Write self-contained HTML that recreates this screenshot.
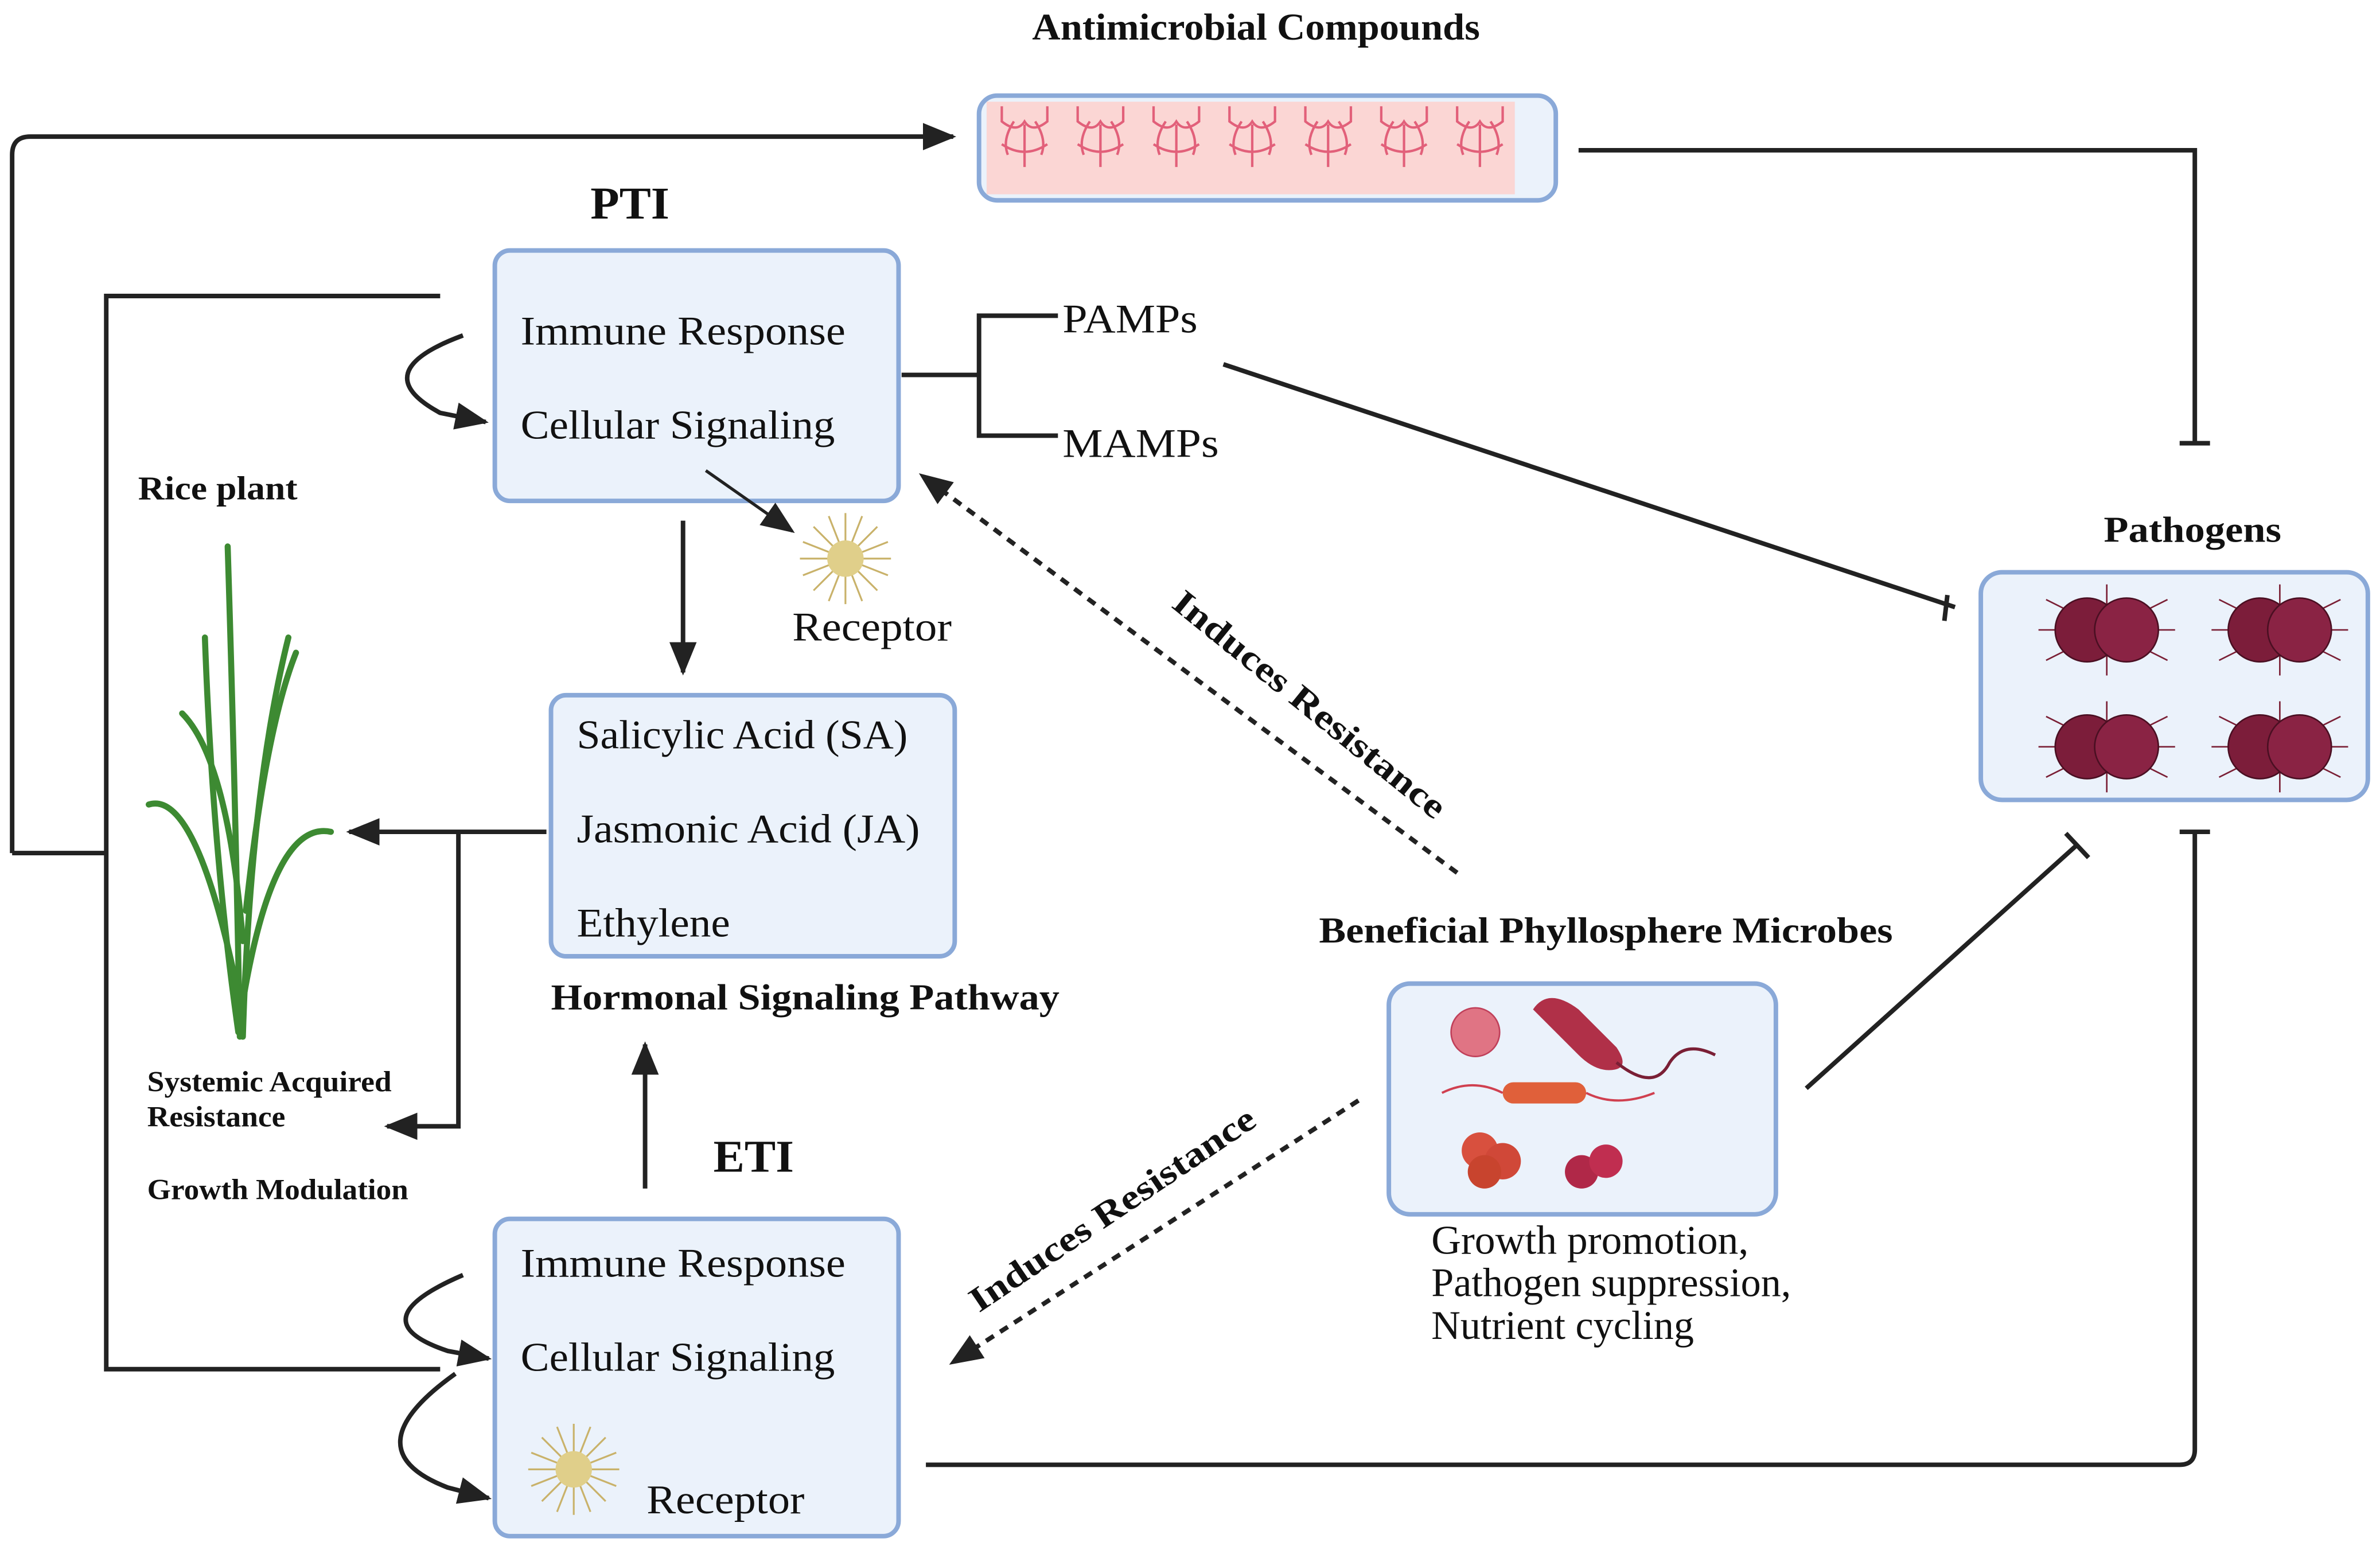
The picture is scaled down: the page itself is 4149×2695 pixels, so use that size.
<!DOCTYPE html>
<html><head><meta charset="utf-8">
<style>
html,body{margin:0;padding:0;background:#fff;}
svg{display:block;}
text{font-family:"Liberation Serif",serif;fill:#111;}
.b{font-weight:bold;}
</style></head>
<body>
<svg width="4149" height="2695" viewBox="0 0 1568 1018.5" xmlns="http://www.w3.org/2000/svg">
<defs>
<marker id="ah2" markerWidth="22" markerHeight="22" refX="20" refY="11" orient="auto" markerUnits="userSpaceOnUse" viewBox="0 0 22 22">
<path d="M0,2 L22,11 L0,20 Z" fill="#222"/></marker>
<g id="spike">
<g stroke="#c9b26a" stroke-width="1.2">
<line x1="-30" y1="0" x2="30" y2="0"/><line x1="0" y1="-30" x2="0" y2="30"/>
<line x1="-21" y1="-21" x2="21" y2="21"/><line x1="-21" y1="21" x2="21" y2="-21"/>
<line x1="-28" y1="-11" x2="28" y2="11"/><line x1="-28" y1="11" x2="28" y2="-11"/>
<line x1="-11" y1="-28" x2="11" y2="28"/><line x1="11" y1="-28" x2="-11" y2="28"/>
</g><circle r="12" fill="#e0cf8a"/></g>
<g id="path">
<g stroke="#7a1f35" stroke-width="1"><line x1="-40" y1="-20" x2="40" y2="20"/><line x1="-40" y1="20" x2="40" y2="-20"/><line x1="0" y1="-30" x2="0" y2="30"/><line x1="-45" y1="0" x2="45" y2="0"/></g>
<circle cx="-13" cy="0" r="21" fill="#7c1d3a" stroke="#4a0f22"/>
<circle cx="13" cy="0" r="21" fill="#8a2344" stroke="#4a0f22"/></g>
</defs>

<g fill="#ebf2fb" stroke="#8aa9d8" stroke-width="3">
<rect x="645" y="63" width="380" height="69" rx="12"/>
<rect x="326" y="165" width="266" height="165" rx="10"/>
<rect x="363" y="458" width="266" height="172" rx="10"/>
<rect x="326" y="803" width="266" height="209" rx="10"/>
<rect x="1305" y="377" width="255" height="150" rx="14"/>
<rect x="915" y="648" width="255" height="152" rx="14"/>
</g>
<rect x="650" y="67" width="348" height="61" fill="#fbd6d4"/>
<g fill="none" stroke="#e2607a" stroke-width="1.6">
<g id="am"><path d="M660,70 v10 q10,8 15,0 q5,8 15,0 v-10 M668,80 q-8,12 -4,22 M682,80 q8,12 4,22 M675,82 v28 M660,95 q15,10 30,0"/></g>
<use href="#am" x="50"/><use href="#am" x="100"/><use href="#am" x="150"/><use href="#am" x="200"/><use href="#am" x="250"/><use href="#am" x="300"/>
</g>
<text x="680" y="26" class="b" font-size="25" textLength="295" lengthAdjust="spacingAndGlyphs">Antimicrobial Compounds</text>

<g stroke="#222" stroke-width="3" fill="none">
<path d="M8,562 V102 Q8,90 20,90 H628" marker-end="url(#ah2)"/>
<path d="M1040,99 H1446 V292 M1436,292 H1456"/>
<path d="M290,195 H70 V902 H290 M8,562 H70"/>
<path d="M594,247 H645 M697,208 H645 V287 H697"/>
<path d="M806,240 L1288,400 M1283,392 L1281,409"/>
<path d="M450,343 V443" marker-end="url(#ah2)"/>
<path d="M425,783 V688" marker-end="url(#ah2)"/>
<path d="M360,548 H230" marker-end="url(#ah2)"/>
<path d="M302,548 V742 H255" marker-end="url(#ah2)"/>
<path d="M610,965 H1436 Q1446,965 1446,955 V548 M1436,548 H1456"/>
<path d="M1190,717 L1368,557 M1361,549 L1376,565"/>
<path d="M305,221 Q240,245 290,272 L320,278" marker-end="url(#ah2)"/>
<path d="M305,840 Q235,870 295,890 L322,895" marker-end="url(#ah2)"/>
<path d="M300,905 Q230,955 295,980 L322,987" marker-end="url(#ah2)"/>
<path d="M465,310 L522,350" stroke-width="2" marker-end="url(#ah2)"/>
<path d="M960,575 L607,313" stroke-dasharray="6,5" marker-end="url(#ah2)"/>
<path d="M895,725 L627,898" stroke-dasharray="6,5" marker-end="url(#ah2)"/>
</g>

<text x="389" y="144" class="b" font-size="30" textLength="52" lengthAdjust="spacingAndGlyphs">PTI</text>
<text x="470" y="772" class="b" font-size="30" textLength="53" lengthAdjust="spacingAndGlyphs">ETI</text>
<g font-size="27" lengthAdjust="spacingAndGlyphs">
<text x="343" y="227" textLength="214" lengthAdjust="spacingAndGlyphs">Immune Response</text>
<text x="343" y="289" textLength="207" lengthAdjust="spacingAndGlyphs">Cellular Signaling</text>
<text x="380" y="493" textLength="218" lengthAdjust="spacingAndGlyphs">Salicylic Acid (SA)</text>
<text x="380" y="555" textLength="226" lengthAdjust="spacingAndGlyphs">Jasmonic Acid (JA)</text>
<text x="380" y="617" textLength="101" lengthAdjust="spacingAndGlyphs">Ethylene</text>
<text x="343" y="841" textLength="214" lengthAdjust="spacingAndGlyphs">Immune Response</text>
<text x="343" y="903" textLength="207" lengthAdjust="spacingAndGlyphs">Cellular Signaling</text>
<text x="426" y="997" textLength="104" lengthAdjust="spacingAndGlyphs">Receptor</text>
<text x="522" y="422" textLength="105" lengthAdjust="spacingAndGlyphs">Receptor</text>
<text x="700" y="219" textLength="89" lengthAdjust="spacingAndGlyphs">PAMPs</text>
<text x="700" y="301" textLength="103" lengthAdjust="spacingAndGlyphs">MAMPs</text>
<text x="943" y="826" textLength="209" lengthAdjust="spacingAndGlyphs">Growth promotion,</text>
<text x="943" y="854" textLength="237" lengthAdjust="spacingAndGlyphs">Pathogen suppression,</text>
<text x="943" y="882" textLength="173" lengthAdjust="spacingAndGlyphs">Nutrient cycling</text>
</g>
<text x="363" y="665" class="b" font-size="24" textLength="335" lengthAdjust="spacingAndGlyphs">Hormonal Signaling Pathway</text>
<text x="91" y="329" class="b" font-size="22" textLength="105" lengthAdjust="spacingAndGlyphs">Rice plant</text>
<text x="1386" y="357" class="b" font-size="24" textLength="117" lengthAdjust="spacingAndGlyphs">Pathogens</text>
<text x="869" y="621" class="b" font-size="24" textLength="378" lengthAdjust="spacingAndGlyphs">Beneficial Phyllosphere Microbes</text>
<g class="b" font-size="19" font-weight="bold">
<text x="97" y="719" textLength="161" lengthAdjust="spacingAndGlyphs">Systemic Acquired</text>
<text x="97" y="742" textLength="91" lengthAdjust="spacingAndGlyphs">Resistance</text>
<text x="97" y="790" textLength="172" lengthAdjust="spacingAndGlyphs">Growth Modulation</text>
</g>
<text transform="translate(858,470) rotate(39)" class="b" font-size="23" text-anchor="middle" textLength="224" lengthAdjust="spacingAndGlyphs">Induces Resistance</text>
<text transform="translate(737,803) rotate(-34)" class="b" font-size="23" text-anchor="middle" textLength="222" lengthAdjust="spacingAndGlyphs">Induces Resistance</text>

<use href="#spike" x="557" y="368"/>
<use href="#spike" x="378" y="968"/>
<use href="#path" x="1388" y="415"/>
<use href="#path" x="1502" y="415"/>
<use href="#path" x="1388" y="492"/>
<use href="#path" x="1502" y="492"/>

<g fill="none" stroke="#3d8a32" stroke-width="4" stroke-linecap="round">
<path d="M158,683 Q155,520 150,360"/>
<path d="M160,683 Q165,520 190,420"/>
<path d="M157,680 Q140,560 135,420"/>
<path d="M158,660 Q130,520 98,530"/>
<path d="M160,660 Q180,540 218,548"/>
<path d="M160,620 Q150,500 120,470"/>
<path d="M162,600 Q175,480 195,430"/>
</g>
<circle cx="972" cy="680" r="16" fill="#e07484" stroke="#c0405a"/>
<path d="M1010,665 Q1020,650 1040,665 L1065,690 Q1075,705 1060,705 Q1050,705 1040,695 Z" fill="#b03048"/>
<path d="M1065,700 Q1090,720 1100,700 Q1110,685 1130,695" stroke="#7a1f35" fill="none" stroke-width="2"/>
<rect x="990" y="713" width="55" height="14" rx="7" fill="#e0603a"/>
<path d="M950,720 Q970,710 990,720 M1045,720 Q1065,730 1090,720" stroke="#d04050" fill="none" stroke-width="1.5"/>
<circle cx="975" cy="758" r="12" fill="#d8503e"/><circle cx="990" cy="765" r="12" fill="#d04838"/><circle cx="978" cy="772" r="11" fill="#c8442e"/>
<circle cx="1042" cy="772" r="11" fill="#b02848"/><circle cx="1058" cy="765" r="11" fill="#c02e50"/>
</svg>
</body></html>
